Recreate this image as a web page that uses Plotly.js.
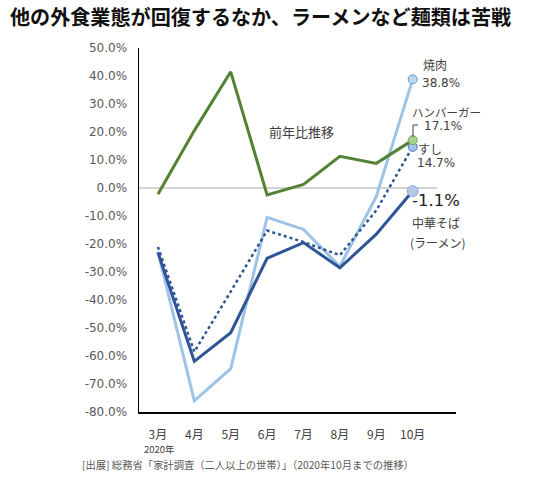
<!DOCTYPE html>
<html><head><meta charset="utf-8">
<script src="https://cdn.plot.ly/plotly-3.0.1.min.js"></script>
<style>html,body{margin:0;padding:0;background:#fff;}#chart{width:537px;height:479px;}</style>
</head><body><div id="chart"></div>
<script>
// ---- data ----
const months = ['3月','4月','5月','6月','7月','8月','9月','10月'];
const yakiniku  = [-22.7, -76.0, -64.5, -10.5, -14.8, -28.0, -3.0, 38.8];
const hamburger = [-2.2, 20.5, 41.5, -2.5, 1.3, 11.3, 8.8, 17.1];
const sushi     = [-21.0, -58.5, -37.0, -15.2, -19.3, -24.0, -8.0, 14.7];
const chuka     = [-23.0, -61.9, -51.7, -25.1, -19.5, -28.5, -16.5, -1.1];
const yTickVals = [50,40,30,20,10,0,-10,-20,-30,-40,-50,-60,-70,-80];

// ---- layout helpers (pixel -> paper) ----
const L=139, R=456, T=48, B=412;
const px = p => (p-L)/(R-L);
const py = q => (B-q)/(B-T);
const JP = '"Noto Sans CJK JP", sans-serif';
const NUM = '"DejaVu Sans", sans-serif';
const last = a => a[a.length-1];
const fmt = v => v.toFixed(1)+'%';

const traces = [
  {x: months, y: yakiniku, mode:'lines', line:{color:'#9DC3E6', width:3}, hoverinfo:'skip'},
  {x: months, y: sushi, mode:'lines', line:{color:'#2F5597', width:2.5, dash:'dot'}, hoverinfo:'skip'},
  {x: months, y: chuka, mode:'lines', line:{color:'#2F5597', width:3}, hoverinfo:'skip'},
  {x: months, y: hamburger, mode:'lines', line:{color:'#548235', width:3}, hoverinfo:'skip'},
  {x: [last(months)], y: [last(yakiniku)], mode:'markers', marker:{size:9, color:'#BDD7EE', line:{color:'#5B9BD5', width:1}}},
  {x: [last(months)], y: [last(sushi)], mode:'markers', marker:{size:9, color:'#9DC3E6', line:{color:'#4472C4', width:1}}},
  {x: [last(months)], y: [last(hamburger)], mode:'markers', marker:{size:9, color:'#A9D18E', line:{color:'#70AD47', width:1}}},
  {x: [last(months)], y: [last(chuka)], mode:'markers', marker:{size:11, color:'#B4C7E7', line:{color:'#8FAADC', width:1}}}
];

function ann(text, p, q, size, color, family, anchor){
  return {text: text, xref:'paper', yref:'paper', x: px(p), y: py(q), xanchor: anchor||'left', yanchor:'middle',
          showarrow:false, font:{size:size, color:color, family:family}};
}

const annotations = [
  ann('焼肉', 421, 65, 12, '#404040', JP),
  ann(fmt(last(yakiniku)), 420, 83, 12, '#404040', NUM),
  ann('ハンバーガー', 410, 112, 11.5, '#404040', JP),
  ann(fmt(last(hamburger)), 422, 126, 12, '#404040', NUM),
  ann('すし', 416, 148, 12, '#404040', JP),
  ann(fmt(last(sushi)), 415, 163, 12, '#404040', NUM),
  ann(fmt(last(chuka)), 410, 201, 16.5, '#222222', NUM),
  ann('中華そば', 410, 223, 12, '#404040', JP),
  ann('(ラーメン)', 408, 242, 12, '#404040', JP),
  ann('前年比推移', 301, 131, 13, '#404040', JP, 'center'),
  ann('2020年', 159, 449, 9.5, '#404040', JP, 'center'),
  {text:'[出展] 総務省「家計調査（二人以上の世帯）」（2020年10月までの推移）', xref:'paper', yref:'paper',
   x: px(80), y: py(464), xanchor:'left', yanchor:'middle', showarrow:false,
   font:{size:10.3, color:'#595959', family:JP}}
];

const shapes = [
  {type:'line', xref:'paper', yref:'y', x0:0, x1:px(437), y0:0, y1:0, line:{color:'#A6A6A6', width:1}, layer:'below'},
  {type:'path', xref:'paper', yref:'paper',
   path:'M '+px(413)+' '+py(137)+' L '+px(413)+' '+py(125)+' L '+px(418)+' '+py(125),
   line:{color:'#404040', width:1}}
];

const layout = {
  width:537, height:479,
  margin:{l:L, r:537-R, t:T, b:479-B, pad:0},
  paper_bgcolor:'#fff', plot_bgcolor:'#fff',
  showlegend:false,
  title:{text:'他の外食業態が回復するなか、ラーメンなど麺類は苦戦', x:10/537, xanchor:'left', xref:'container',
         y:1-18/479, yanchor:'middle', yref:'container',
         font:{size:20.1, color:'#111', family:JP, weight:'bold'}},
  xaxis:{type:'category', range:[-0.52, 8.19], showgrid:false, zeroline:false, showline:true,
         linecolor:'#000', linewidth:1.5, ticks:'', ticklabelstandoff:11,
         tickfont:{size:12, color:'#404040', family:JP}, fixedrange:true},
  yaxis:{range:[-80, 50], tickvals:yTickVals, ticktext:yTickVals.map(fmt), showgrid:false, zeroline:false,
         showline:true, linecolor:'#000', linewidth:1.5, ticks:'', ticklabelstandoff:8,
         tickfont:{size:12, color:'#595959', family:NUM}, fixedrange:true},
  annotations: annotations,
  shapes: shapes
};

Plotly.newPlot('chart', traces, layout, {staticPlot:true, displayModeBar:false});
</script></body></html>
